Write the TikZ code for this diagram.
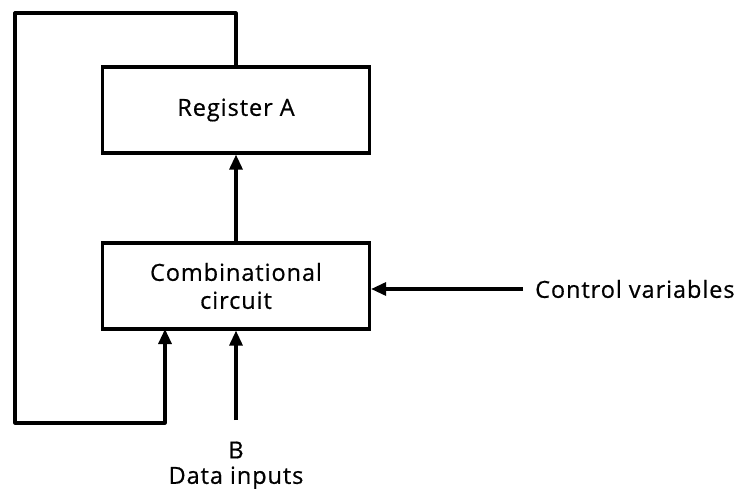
\documentclass[tikz,border=0pt]{standalone}
\usepackage{fontspec}
\setmainfont{Open Sans}[LetterSpace=4,FakeBold=0.6]
\usetikzlibrary{arrows.meta}
\begin{document}
\begin{tikzpicture}[x=1pt,y=-1pt,
  box/.style={draw,line width=3.2pt,minimum width=267pt,minimum height=86pt,inner sep=0pt,align=center,font=\fontsize{23.5}{28}\selectfont},
  lbl/.style={font=\fontsize{23.5}{28}\selectfont,inner sep=0pt},
  wire/.style={line width=3.2pt},
  arr/.style={wire,-{Triangle[length=15pt,width=13pt]}}]
\useasboundingbox (0,0) rectangle (748,488);
\node[box] (reg) at (236,110) {Register A};
\node[box] (comb) at (236,286) {Combinational\\circuit};
\coordinate (tl) at (15,13);
\coordinate (bl) at (15,423);
\coordinate (fb) at (165,329);
\coordinate (din) at (236,420);
\node[lbl] (b) at (236,450) {B};
\node[lbl] (data) at (236,478) {Data inputs};
\node[lbl,anchor=west,inner xsep=12pt] (ctrl) at (523,289) {Control variables};
\draw[arr] (comb.north) -- (reg.south);
\draw[arr,line join=round] (reg.north) |- (tl) -- (bl) -| (fb);
\draw[arr] (din) -- (comb.south);
\draw[arr] (ctrl.west) -- (ctrl.west -| comb.east);
\end{tikzpicture}
\end{document}
